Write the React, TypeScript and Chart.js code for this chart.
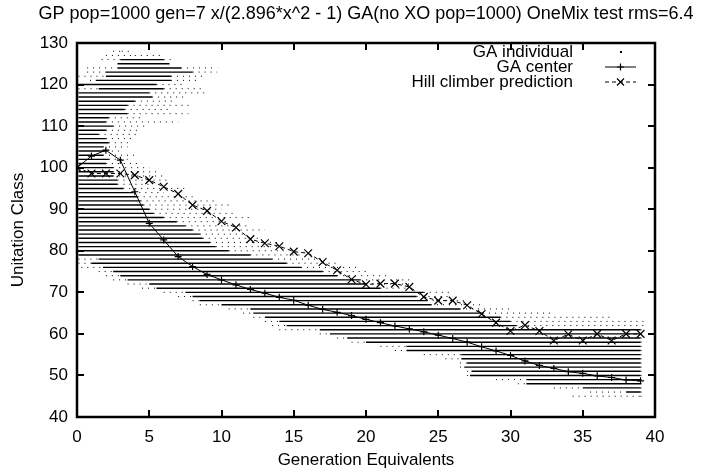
import React, { useEffect, useRef } from "react";
import { Chart, registerables } from "chart.js";

Chart.register(...registerables);

const TITLE = "GP pop=1000 gen=7 x/(2.896*x^2 - 1) GA(no XO pop=1000) OneMix test rms=6.4";
const X_TITLE = "Generation Equivalents";
const Y_TITLE = "Unitation Class";
const LEGEND_LABELS = ["GA individual", "GA center", "Hill climber prediction"];
const X_TICKS = [0, 5, 10, 15, 20, 25, 30, 35, 40];
const Y_TICKS = [40, 50, 60, 70, 80, 90, 100, 110, 120, 130];

const generations = [0, 1, 2, 3, 4, 5, 6, 7, 8, 9, 10, 11, 12, 13, 14, 15, 16, 17, 18, 19, 20, 21, 22, 23, 24, 25, 26, 27, 28, 29, 30, 31, 32, 33, 34, 35, 36, 37, 38, 39];
const gaCenter = [100, 102.8, 104.2, 101.8, 94.2, 86.6, 82.6, 78.6, 76.2, 74.3, 73.0, 71.8, 70.7, 69.8, 68.8, 68.1, 66.9, 65.9, 65.2, 64.4, 63.5, 62.7, 61.9, 61.2, 60.5, 59.7, 58.9, 58.0, 56.9, 55.9, 54.8, 53.5, 52.4, 51.7, 50.9, 50.5, 49.9, 49.5, 48.9, 48.7];
const hillClimber = [100, 98.6, 98.6, 98.6, 98.2, 97.0, 95.4, 93.7, 91.0, 89.6, 87.1, 85.6, 82.8, 81.8, 81.1, 79.8, 79.4, 77.3, 75.3, 73.1, 71.9, 72.1, 72.1, 71.3, 68.9, 68.0, 68.0, 66.9, 64.8, 62.7, 60.7, 62.1, 60.7, 58.4, 59.9, 58.4, 60.0, 58.4, 60.0, 60.0];

// GA individuals: per unitation class, the x-extent of sparse and dense dots
const cloudLevels = [128, 127, 126, 125, 124, 123, 122, 121, 120, 119, 118, 117, 116, 115, 114, 113, 112, 111, 110, 109, 108, 107, 106, 105, 104, 103, 102, 101, 100, 99, 98, 97, 96, 95, 94, 93, 92, 91, 90, 89, 88, 87, 86, 85, 84, 83, 82, 81, 80, 79, 78, 77, 76, 75, 74, 73, 72, 71, 70, 69, 68, 67, 66, 65, 64, 63, 62, 61, 60, 59, 58, 57, 56, 55, 54, 53, 52, 51, 50, 49, 48, 47, 46, 45];
const cloudSparseFrom = [2.5, 2.0, 1.7, 2.8, 0.7, 0.7, 0.1, 0.9, 0.1, 0.1, 0.1, 0.1, 0.1, 0.1, 0.1, 0.1, 0.1, 0.1, 0.1, 0.1, 0.1, 0.1, 0.1, 0.1, 0.1, 0.1, 0.1, 0.1, 0.1, 0.1, 0.1, 0.1, 0.1, 0.1, 0.1, 0.1, 0.1, 0.1, 0.1, 0.1, 0.1, 0.1, 0.1, 0.1, 0.1, 0.1, 0.1, 0.1, 0.1, 0.1, 0.1, 0.1, 0.3, 1.5, 2.0, 2.5, 3.5, 4.5, 6.0, 7.0, 8.0, 8.5, 10.5, 11.5, 12.2, 13.0, 13.5, 14.0, 16.8, 18.0, 19.0, 21.0, 22.0, 24.0, 25.5, 26.5, 26.5, 27.0, 27.0, 29.0, 30.5, 33.0, 35.5, 34.3];
const cloudDenseFrom = [3.1, 4.0, 3.0, 2.8, 2.8, 2.0, 2.0, 1.3, 0.1, 1.5, 0.1, 0.1, 0.1, 0.1, 0.1, 0.1, 0.1, 0.1, 0.1, 0.1, 0.1, 0.1, 0.1, 0.1, 0.1, 0.1, 0.1, 0.1, 0.1, 0.1, 0.1, 0.1, 0.1, 0.1, 0.1, 0.1, 0.1, 0.1, 0.1, 0.1, 0.1, 0.1, 0.1, 0.1, 0.1, 0.1, 0.1, 0.1, 0.1, 0.1, 1.5, 1.0, 1.8, 2.5, 3.0, 3.5, 5.0, 5.5, 7.5, 8.0, 8.5, 10.0, 12.0, 12.2, 13.0, 14.0, 14.5, 16.8, 17.5, 18.7, 20.0, 22.8, 22.8, 26.6, 26.6, 27.0, 26.8, 27.3, 27.2, 31.1, 31.1, 35.0, 38.0, 39.0];
const cloudDenseTo = [3.1, 4.0, 6.0, 6.4, 7.2, 8.0, 6.5, 6.5, 5.5, 6.0, 5.0, 5.2, 4.0, 3.5, 3.3, 3.5, 2.2, 2.0, 2.5, 2.0, 1.5, 2.0, 2.2, 1.8, 2.0, 1.8, 2.2, 2.0, 2.5, 2.5, 2.5, 2.8, 2.8, 3.2, 3.9, 4.2, 4.4, 4.6, 5.0, 5.3, 6.0, 6.9, 7.5, 8.0, 8.5, 8.7, 9.2, 9.6, 10.5, 12.0, 13.5, 14.5, 15.5, 17.0, 18.0, 19.6, 20.0, 21.0, 24.0, 23.5, 24.2, 24.5, 26.5, 28.1, 29.3, 30.0, 30.4, 39.0, 39.0, 39.0, 39.0, 39.0, 39.0, 39.0, 39.0, 39.0, 39.0, 39.0, 39.0, 39.0, 39.0, 39.0, 39.0, 39.0];
const cloudSparseTo = [3.7, 6.0, 6.5, 6.4, 9.7, 9.7, 8.8, 8.5, 7.5, 8.8, 9.0, 7.5, 6.8, 8.0, 6.5, 7.7, 4.5, 7.0, 4.8, 4.2, 4.2, 4.0, 3.8, 3.5, 3.2, 4.0, 3.5, 4.5, 5.0, 5.5, 6.0, 6.5, 5.0, 7.5, 6.0, 8.0, 9.5, 10.5, 10.0, 11.0, 12.0, 10.5, 12.0, 13.0, 11.5, 12.5, 14.0, 14.0, 14.5, 15.5, 17.0, 18.0, 19.5, 20.0, 21.5, 23.3, 23.3, 23.3, 26.0, 26.0, 27.0, 28.0, 30.0, 33.0, 37.0, 39.2, 39.2, 39.2, 39.2, 39.2, 39.2, 39.2, 39.2, 39.2, 39.2, 39.2, 39.2, 39.2, 39.2, 39.2, 39.2, 39.2, 39.2, 39.2];

const FONT = "'Liberation Sans', Arial, Helvetica, sans-serif";
const FONT_SIZE = 17;
const TITLE_SIZE = 18;

type Pt = { x: number; y: number | null };

function segments(from: number[], to: number[], ys: number[]): Pt[] {
  const pts: Pt[] = [];
  for (let i = 0; i < ys.length; i++) {
    if (to[i] > from[i]) {
      pts.push({ x: from[i], y: ys[i] }, { x: to[i], y: ys[i] }, { x: to[i], y: null });
    }
  }
  return pts;
}

function drawMarker(ctx: CanvasRenderingContext2D, kind: string, x: number, y: number, r: number) {
  ctx.beginPath();
  if (kind === "plus") {
    ctx.moveTo(x - r, y);
    ctx.lineTo(x + r, y);
    ctx.moveTo(x, y - r);
    ctx.lineTo(x, y + r);
  } else {
    ctx.moveTo(x - r, y - r);
    ctx.lineTo(x + r, y + r);
    ctx.moveTo(x - r, y + r);
    ctx.lineTo(x + r, y - r);
  }
  ctx.stroke();
}

const framePlugin = {
  id: "gnuplotFrame",
  afterDatasetsDraw(chart: any) {
    const { ctx, chartArea: a, scales } = chart;
    ctx.save();
    ctx.strokeStyle = "#000";
    ctx.fillStyle = "#000";
    // ticks (inward, mirrored)
    ctx.lineWidth = 2;
    ctx.beginPath();
    for (const v of X_TICKS) {
      const px = Math.round(scales.x.getPixelForValue(v));
      ctx.moveTo(px, a.bottom);
      ctx.lineTo(px, a.bottom - 7);
      ctx.moveTo(px, a.top);
      ctx.lineTo(px, a.top + 7);
    }
    for (const v of Y_TICKS) {
      const py = Math.round(scales.y.getPixelForValue(v));
      ctx.moveTo(a.left, py);
      ctx.lineTo(a.left + 7, py);
      ctx.moveTo(a.right, py);
      ctx.lineTo(a.right - 7, py);
    }
    ctx.stroke();
    // border
    ctx.lineWidth = 2.5;
    ctx.strokeRect(a.left, a.top, a.right - a.left, a.bottom - a.top);

    // title
    ctx.font = `${TITLE_SIZE}px ${FONT}`;
    ctx.textAlign = "center";
    ctx.textBaseline = "middle";
    ctx.fillText(TITLE, (a.left + a.right) / 2, 14);

    // legend
    const textRight = 573;
    const s1 = 605;
    const s2 = 636;
    const mid = (s1 + s2) / 2;
    const rows = [52, 67, 82];
    ctx.font = `${FONT_SIZE}px ${FONT}`;
    ctx.textAlign = "right";
    rows.forEach((ry, i) => ctx.fillText(LEGEND_LABELS[i], textRight, ry));
    // GA individual sample: a dot
    ctx.fillRect(Math.round(mid) - 1, rows[0] - 1, 2, 2);
    // GA center sample
    ctx.lineWidth = 1;
    ctx.setLineDash([]);
    ctx.beginPath();
    ctx.moveTo(s1, rows[1]);
    ctx.lineTo(s2, rows[1]);
    ctx.stroke();
    ctx.lineWidth = 1.2;
    drawMarker(ctx, "plus", mid, rows[1], 3.5);
    // Hill climber sample
    ctx.lineWidth = 1;
    ctx.setLineDash([4, 3]);
    ctx.beginPath();
    ctx.moveTo(s1, rows[2]);
    ctx.lineTo(s2, rows[2]);
    ctx.stroke();
    ctx.setLineDash([]);
    ctx.lineWidth = 1.2;
    drawMarker(ctx, "x", mid, rows[2], 3.5);
    ctx.restore();
  },
};

export default function App() {
  const canvasRef = useRef<HTMLCanvasElement | null>(null);

  useEffect(() => {
    const canvas = canvasRef.current;
    if (!canvas) return;
    const center = generations.map((g, i) => ({ x: g, y: gaCenter[i] }));
    const hill = generations.map((g, i) => ({ x: g, y: hillClimber[i] }));
    const dense = segments(cloudDenseFrom, cloudDenseTo, cloudLevels);
    const sparse = [
      ...segments(cloudSparseFrom, cloudDenseFrom, cloudLevels),
      ...segments(cloudDenseTo, cloudSparseTo, cloudLevels),
    ];

    const chart = new Chart(canvas, {
      type: "scatter",
      data: {
        datasets: [
          {
            label: "GA center",
            data: center,
            showLine: true,
            borderColor: "#000",
            backgroundColor: "#000",
            borderWidth: 1,
            pointStyle: "cross",
            pointRadius: 3.5,
            pointBorderWidth: 1.2,
            order: 0,
          },
          {
            label: "Hill climber prediction",
            data: hill,
            showLine: true,
            borderColor: "#000",
            backgroundColor: "#000",
            borderWidth: 1,
            borderDash: [4, 3],
            pointStyle: "crossRot",
            pointRadius: 5.5,
            pointBorderWidth: 1.2,
            order: 1,
          },
          {
            label: "GA individual",
            data: dense,
            showLine: true,
            spanGaps: false,
            borderColor: "#000",
            borderWidth: 1.4,
            pointRadius: 0,
            order: 2,
          },
          {
            label: "GA individual (sparse)",
            data: sparse,
            showLine: true,
            spanGaps: false,
            borderColor: "#000",
            borderWidth: 1,
            borderDash: [1, 5],
            pointRadius: 0,
            order: 3,
          },
        ],
      },
      options: {
        responsive: false,
        animation: false,
        events: [],
        layout: { padding: { top: 43, right: 66, left: 0, bottom: 0 } },
        plugins: {
          legend: { display: false },
          title: { display: false },
          tooltip: { enabled: false },
        },
        scales: {
          x: {
            type: "linear",
            min: 0,
            max: 40,
            afterFit: (s: any) => {
              s.height = 55;
            },
            grid: { display: false, drawTicks: false },
            border: { display: false },
            ticks: {
              stepSize: 5,
              color: "#000",
              padding: 10,
              maxRotation: 0,
              font: { family: FONT, size: FONT_SIZE },
            },
            title: {
              display: true,
              text: X_TITLE,
              color: "#000",
              padding: { top: 0, bottom: 1 },
              font: { family: FONT, size: FONT_SIZE },
            },
          },
          y: {
            type: "linear",
            min: 40,
            max: 130,
            afterFit: (s: any) => {
              s.width = 77;
            },
            grid: { display: false, drawTicks: false },
            border: { display: false },
            ticks: {
              stepSize: 10,
              color: "#000",
              padding: 9,
              font: { family: FONT, size: FONT_SIZE },
            },
            title: {
              display: true,
              text: Y_TITLE,
              color: "#000",
              padding: { top: 8, bottom: 0 },
              font: { family: FONT, size: FONT_SIZE },
            },
          },
        },
      },
      plugins: [framePlugin],
    });
    return () => chart.destroy();
  }, []);

  return (
    <div style={{ position: "absolute", left: 0, top: 0, width: 721, height: 472, background: "#fff" }}>
      <canvas ref={canvasRef} width={721} height={472} />
    </div>
  );
}
